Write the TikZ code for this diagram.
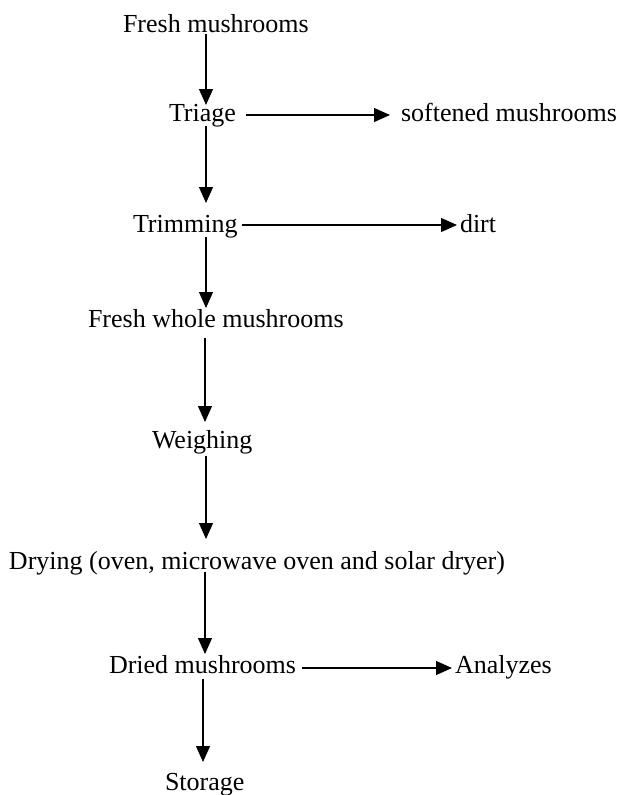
\documentclass[tikz,border=0pt]{standalone}
\usepackage{fontspec}
\setmainfont{Liberation Serif}
\usetikzlibrary{arrows.meta}
\begin{document}
\begin{tikzpicture}[x=1pt,y=-1pt,
  lbl/.style={inner sep=0pt, outer sep=0pt, anchor=base west, font=\fontsize{26}{30}\selectfont},
  arr/.style={line width=1.2pt, -{Triangle[width=14pt,length=16pt]}}]
\useasboundingbox (0,0) rectangle (619,795);
% nodes (base west positions)
\node[lbl] (fm) at (123,32.7) {Fresh mushrooms};
\node[lbl] (tr) at (169,121) {Triage};
\node[lbl] (sm) at (401,121) {softened mushrooms};
\node[lbl] (tm) at (133,232) {Trimming};
\node[lbl] (dt) at (460,232) {dirt};
\node[lbl] (fw) at (88,327) {Fresh whole mushrooms};
\node[lbl] (we) at (152,448) {Weighing};
\node[lbl] (dr) at (9,569) {Drying (oven, microwave oven and solar dryer)};
\node[lbl] (dm) at (109,673) {Dried mushrooms};
\node[lbl] (an) at (455,673) {Analyzes};
\node[lbl] (st) at (165,790) {Storage};
% columns of the vertical arrows
\coordinate (c206) at (206,0);
\coordinate (c205) at (205,0);
\coordinate (c203) at (203,0);
% vertical arrows
\draw[arr, shorten <=1.3pt, shorten >=16pt] (fm.base -| c206) -- (tr.base -| c206);
\draw[arr, shorten <=5pt,   shorten >=29pt] (tr.base -| c206) -- (tm.base -| c206);
\draw[arr, shorten <=5pt,   shorten >=19pt] (tm.base -| c206) -- (fw.base -| c206);
\draw[arr, shorten <=11pt,  shorten >=26pt] (fw.base -| c205) -- (we.base -| c205);
\draw[arr, shorten <=8pt,   shorten >=30pt] (we.base -| c206) -- (dr.base -| c206);
\draw[arr, shorten <=3pt,   shorten >=19pt] (dr.base -| c205) -- (dm.base -| c205);
\draw[arr, shorten <=6pt,   shorten >=28pt] (dm.base -| c203) -- (st.base -| c203);
% horizontal arrows
\draw[arr, shorten <=10pt, shorten >=11pt] ([yshift=6pt]tr.base east) -- ([yshift=6pt]sm.base west);
\draw[arr, shorten <=4pt,  shorten >=3pt]  ([yshift=7pt]tm.base east) -- ([yshift=7pt]dt.base west);
\draw[arr, shorten <=6pt,  shorten >=3pt]  ([yshift=5pt]dm.base east) -- ([yshift=5pt]an.base west);
\end{tikzpicture}
\end{document}
